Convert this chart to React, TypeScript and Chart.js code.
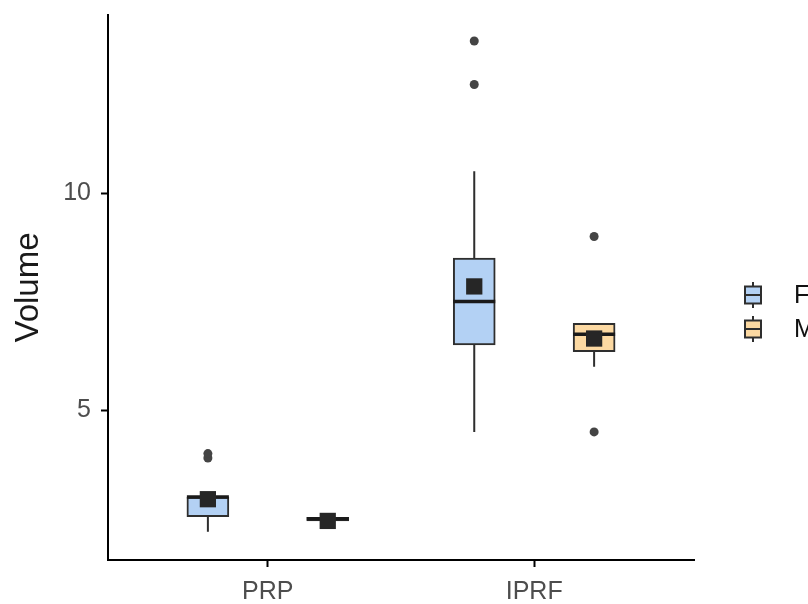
import { useEffect, useRef } from "react";
import { Chart, registerables } from "chart.js";

Chart.register(...registerables);

// Groups along the x axis and the two sexes within each group
const categories = ["PRP", "IPRF"];
const groupNames = ["F", "M"];

// Five-number summaries, means and outliers per category (PRP, IPRF)
const fMin = [2.2, 4.5];
const fQ1 = [2.55, 6.5];
const fMedian = [3.0, 7.5];
const fQ3 = [3.0, 8.5];
const fMax = [3.0, 10.5];
const fMean = [2.95, 7.85];
const fOutliers = [[3.9, 4.0], [12.5, 13.5]];

const mMin = [2.38, 6.0];
const mQ1 = [2.45, 6.35];
const mMedian = [2.5, 6.75];
const mQ3 = [2.53, 7.0];
const mMax = [2.55, 7.0];
const mMean = [2.45, 6.65];
const mOutliers = [[], [4.5, 9.0]];

const yTicks = [5, 10];

const FONT = "'Liberation Sans', Arial, sans-serif";
const LINE = "#2e2e2e";
const FILL_F = "#b3d1f4";
const FILL_M = "#fcd9a2";
const DODGE = 0.225;

type Summary = {
  min: number[]; q1: number[]; median: number[]; q3: number[]; max: number[];
  mean: number[]; outliers: number[][]; fill: string; shift: number;
};

const series: Summary[] = [
  { min: fMin, q1: fQ1, median: fMedian, q3: fQ3, max: fMax, mean: fMean, outliers: fOutliers, fill: FILL_F, shift: -DODGE },
  { min: mMin, q1: mQ1, median: mMedian, q3: mQ3, max: mMax, mean: mMean, outliers: mOutliers, fill: FILL_M, shift: DODGE },
];

const xOf = (ci: number, s: Summary) => ci + 1 + s.shift;

// Whiskers go under each box, the median line over it
const boxPlotPlugin = {
  id: "boxWhiskers",
  beforeDatasetDraw(chart: any, args: any) {
    const s = series[args.index];
    if (!s || args.index > 1) return;
    const { x, y } = chart.scales;
    const ctx = chart.ctx;
    ctx.save();
    ctx.strokeStyle = LINE;
    ctx.lineWidth = 2;
    categories.forEach((_, ci) => {
      const px = x.getPixelForValue(xOf(ci, s));
      ctx.beginPath();
      ctx.moveTo(px, y.getPixelForValue(s.min[ci]));
      ctx.lineTo(px, y.getPixelForValue(s.q1[ci]));
      ctx.moveTo(px, y.getPixelForValue(s.q3[ci]));
      ctx.lineTo(px, y.getPixelForValue(s.max[ci]));
      ctx.stroke();
    });
    ctx.restore();
  },
  afterDatasetDraw(chart: any, args: any) {
    const s = series[args.index];
    if (!s || args.index > 1) return;
    const { x, y } = chart.scales;
    const ctx = chart.ctx;
    const half = 21;
    ctx.save();
    ctx.strokeStyle = "#1a1a1a";
    ctx.lineWidth = 3.5;
    categories.forEach((_, ci) => {
      const px = x.getPixelForValue(xOf(ci, s));
      const py = y.getPixelForValue(s.median[ci]);
      ctx.beginPath();
      ctx.moveTo(px - half, py);
      ctx.lineTo(px + half, py);
      ctx.stroke();
    });
    ctx.restore();
  },
  afterDraw(chart: any) {
    const ctx = chart.ctx;
    const keys = [
      { label: groupNames[0], fill: FILL_F, cy: 295 },
      { label: groupNames[1], fill: FILL_M, cy: 329 },
    ];
    ctx.save();
    keys.forEach((k) => {
      const cx = 753;
      ctx.strokeStyle = LINE;
      ctx.lineWidth = 2;
      ctx.beginPath();
      ctx.moveTo(cx, k.cy - 13);
      ctx.lineTo(cx, k.cy + 13);
      ctx.stroke();
      ctx.fillStyle = k.fill;
      ctx.fillRect(cx - 8, k.cy - 8.5, 16, 17);
      ctx.strokeRect(cx - 8, k.cy - 8.5, 16, 17);
      ctx.beginPath();
      ctx.moveTo(cx - 8, k.cy);
      ctx.lineTo(cx + 8, k.cy);
      ctx.stroke();
      ctx.fillStyle = "#111111";
      ctx.font = `25px ${FONT}`;
      ctx.textBaseline = "middle";
      ctx.textAlign = "left";
      ctx.fillText(k.label, 794, k.cy + 1);
    });
    ctx.restore();
  },
};

export default function App() {
  const ref = useRef<HTMLCanvasElement>(null);

  useEffect(() => {
    if (!ref.current) return;

    const boxSets = series.map((s, si) => ({
      type: "bar" as const,
      label: groupNames[si],
      data: categories.map((_, ci) => ({ x: xOf(ci, s), y: [s.q1[ci], s.q3[ci]] })),
      backgroundColor: s.fill,
      borderColor: LINE,
      borderWidth: 2,
      borderSkipped: false,
      barThickness: 42,
      grouped: false,
      order: 3,
    }));

    const outlierSets = series.map((s, si) => ({
      type: "scatter" as const,
      label: `${groupNames[si]} outliers`,
      data: categories.flatMap((_, ci) => s.outliers[ci].map((v) => ({ x: xOf(ci, s), y: v }))),
      pointStyle: "circle",
      pointRadius: 4.5,
      backgroundColor: "#444444",
      borderWidth: 0,
      order: 2,
    }));

    const meanSets = series.map((s, si) => ({
      type: "scatter" as const,
      label: `${groupNames[si]} mean`,
      data: categories.map((_, ci) => ({ x: xOf(ci, s), y: s.mean[ci] })),
      pointStyle: "rect",
      pointRadius: 11.5,
      backgroundColor: "#262626",
      borderWidth: 0,
      order: 1,
    }));

    const chart = new Chart(ref.current, {
      type: "bar",
      data: { datasets: [...boxSets, ...outlierSets, ...meanSets] as any },
      plugins: [boxPlotPlugin],
      options: {
        animation: false,
        responsive: false,
        layout: { padding: { top: 15, right: 114, left: 0, bottom: 0 } },
        plugins: { legend: { display: false }, tooltip: { enabled: false } },
        scales: {
          x: {
            type: "linear",
            min: 0.4,
            max: 2.6,
            offset: false,
            afterBuildTicks: (s: any) => { s.ticks = categories.map((_, i) => ({ value: i + 1 })); },
            afterFit: (s: any) => { s.height = 44; s.paddingLeft = 0; s.paddingRight = 0; },
            ticks: {
              callback: (v: any) => categories[Number(v) - 1],
              color: "#4d4d4d",
              font: { family: FONT, size: 25 },
              padding: 10,
              autoSkip: false,
              maxRotation: 0,
            },
            grid: { drawOnChartArea: false, offset: false, tickLength: 7, color: "#000", tickWidth: 2 },
            border: { color: "#000", width: 2 },
          },
          y: {
            type: "linear",
            min: 1.55,
            max: 14.1,
            afterBuildTicks: (s: any) => { s.ticks = yTicks.map((v) => ({ value: v })); },
            afterFit: (s: any) => { s.width = 108; s.paddingTop = 0; s.paddingBottom = 0; },
            ticks: {
              color: "#4d4d4d",
              font: { family: FONT, size: 25 },
              padding: 10,
            },
            title: {
              display: true,
              text: "Volume",
              color: "#1a1a1a",
              font: { family: FONT, size: 33 },
              padding: { top: 9, bottom: 0 },
            },
            grid: { drawOnChartArea: false, tickLength: 7, color: "#000", tickWidth: 2 },
            border: { color: "#000", width: 2 },
          },
        },
      } as any,
    });

    return () => chart.destroy();
  }, []);

  return (
    <div style={{ position: "absolute", left: 0, top: 0, width: 808, height: 604, background: "#fff" }}>
      <canvas ref={ref} width={808} height={604} style={{ display: "block" }} />
    </div>
  );
}
